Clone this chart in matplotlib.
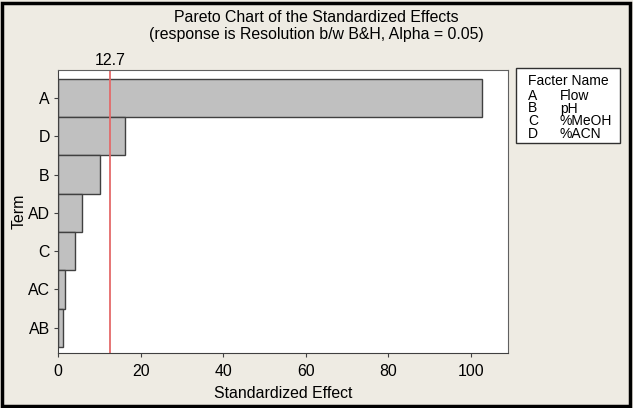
import matplotlib
matplotlib.use("Agg")
import matplotlib.pyplot as plt
from matplotlib.patches import Rectangle

terms = ["A", "D", "B", "AD", "C", "AC", "AB"]
effects = [102.7, 16.2, 10.2, 5.9, 4.0, 1.8, 1.1]
critical = 12.7
factorCodes = ["A", "B", "C", "D"]
factorNames = ["Flow", "pH", "%MeOH", "%ACN"]

bg = "#eeebe3"
fs = 11.4
plt.rcParams["font.family"] = ["Liberation Sans", "DejaVu Sans"]

fig = plt.figure(figsize=(6.33, 4.08), dpi=100, facecolor=bg)
ax = fig.add_axes([58 / 633, 1 - 353 / 408, 450 / 633, 283 / 408])
ax.set_facecolor("white")

n = len(terms)
pos = list(range(n - 1, -1, -1))
ax.barh(pos, effects, height=1.0, color="#c0c0c0", edgecolor="#404040", linewidth=1.0)
ax.axvline(critical, color="#e46a6a", linewidth=1.3)
ax.text(critical, n - 0.5 + 0.23 + 0.05, f"{critical}", ha="center", va="bottom", fontsize=fs)

ax.set_xlim(0, 109.0)
ax.set_ylim(-0.5 - 0.16, n - 0.5 + 0.23)
ax.set_yticks(pos, labels=terms)
ax.set_xticks([0, 20, 40, 60, 80, 100])
ax.tick_params(labelsize=fs, length=3, width=0.8, color="#404040", pad=3)
ax.tick_params(axis="x", pad=5)
ax.set_xlabel("Standardized Effect", fontsize=fs, labelpad=5)
ax.set_ylabel("Term", fontsize=fs, labelpad=1)
for side in ["top", "right"]:
  ax.spines[side].set_color("#606060")
  ax.spines[side].set_linewidth(0.8)
for side in ["left", "bottom"]:
  ax.spines[side].set_color("#404040")

fig.text(0.5, 1 - 17 / 408, "Pareto Chart of the Standardized Effects", ha="center", va="center", fontsize=fs)
fig.text(0.5, 1 - 35 / 408, "(response is Resolution b/w B&H, Alpha = 0.05)", ha="center", va="center", fontsize=fs)

# legend box
fig.patches.append(Rectangle((516 / 633, 1 - 143 / 408), 104 / 633, 75 / 408, transform=fig.transFigure,
                             facecolor="white", edgecolor="#303030", linewidth=1.0))
fig.text(528 / 633, 1 - 81 / 408, "Facter Name", fontsize=10, va="center")
for i, (code, name) in enumerate(zip(factorCodes, factorNames)):
  y = 1 - (96 + i * 12.5) / 408
  fig.text(528 / 633, y, code, fontsize=10, va="center")
  fig.text(560 / 633, y, name, fontsize=10, va="center")

# outer border
fig.patches.append(Rectangle((2 / 633, 2 / 408), 628 / 633, 403 / 408, transform=fig.transFigure,
                             facecolor="none", edgecolor="black", linewidth=2.5))

fig.savefig("out.png", dpi=100, facecolor=bg)
